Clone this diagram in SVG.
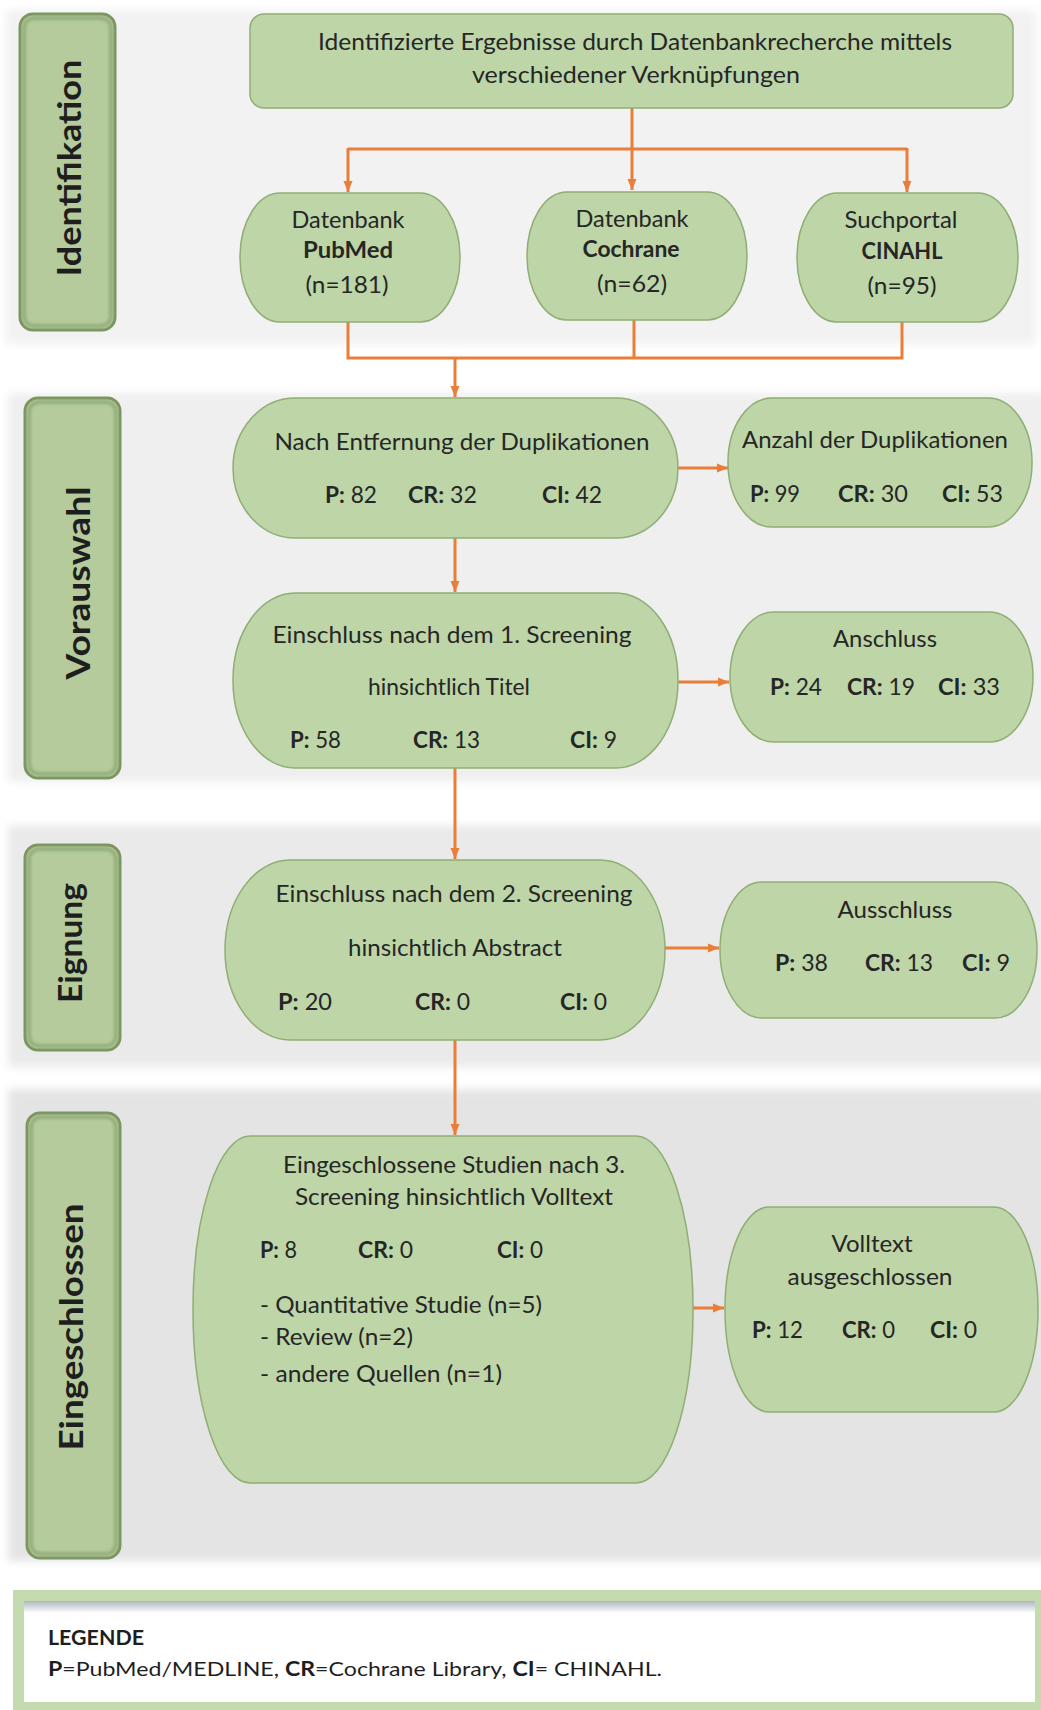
<svg xmlns="http://www.w3.org/2000/svg" width="1041" height="1710" viewBox="0 0 1041 1710">
<style>
.t{font-family:Lato,"Liberation Sans",sans-serif;font-size:23px;fill:#262626}
.c{text-anchor:middle}
.b{font-weight:bold}
.lbl{font-family:Lato,"Liberation Sans",sans-serif;font-size:33px;font-weight:bold;fill:#1e1e1e;text-anchor:middle}
.node{fill:#bdd5a7;stroke:#8fae74;stroke-width:1.5}
.lab{fill:#b5cb9c;stroke:#7b955f;stroke-width:3}
.labin{fill:none;stroke:#93ad7a;stroke-width:4;filter:url(#soft)}
.band{filter:url(#blur)}
.con{fill:none;stroke:#ea7d38;stroke-width:3}
.lg{font-family:Lato,"Liberation Sans",sans-serif;font-size:20px;fill:#1e1e1e}
</style>
<defs>
<filter id="blur" x="-5%" y="-5%" width="110%" height="110%"><feGaussianBlur stdDeviation="4"/></filter>
<filter id="soft"><feGaussianBlur stdDeviation="1.5"/></filter>
<marker id="ah" markerUnits="userSpaceOnUse" markerWidth="12" markerHeight="12" refX="11" refY="6" orient="auto">
<path d="M0,1.5 L11,6 L0,10.5 z" fill="#ea7d38"/>
</marker>
<linearGradient id="lgsh" x1="0" y1="0" x2="0" y2="1">
<stop offset="0" stop-color="#aeb6bd"/><stop offset="1" stop-color="#ffffff"/>
</linearGradient>
</defs>
<rect width="1041" height="1710" fill="#ffffff"/>
<g id="bands">
<rect class="band" x="6" y="10" width="1030" height="334" fill="#f2f2f2"/>
<rect class="band" x="8" y="393" width="1040" height="389" fill="#efefef"/>
<rect class="band" x="8" y="825" width="1040" height="242" fill="#eaeaea"/>
<rect class="band" x="8" y="1089" width="1040" height="472" fill="#e4e4e4"/>
</g>
<g id="lab-identifikation">
<rect class="lab" x="20" y="14" width="95" height="316" rx="13"/>
<rect class="labin" x="24" y="18" width="87" height="308" rx="10"/>
<text class="lbl" transform="translate(81,168) rotate(-90)" textLength="217" lengthAdjust="spacingAndGlyphs">Identifikation</text>
</g>
<g id="lab-vorauswahl">
<rect class="lab" x="25" y="398" width="95" height="380" rx="13"/>
<rect class="labin" x="29" y="402" width="87" height="372" rx="10"/>
<text class="lbl" transform="translate(90,583) rotate(-90)" textLength="193" lengthAdjust="spacingAndGlyphs">Vorauswahl</text>
</g>
<g id="lab-eignung">
<rect class="lab" x="25" y="845" width="95" height="205" rx="13"/>
<rect class="labin" x="29" y="849" width="87" height="197" rx="10"/>
<text class="lbl" transform="translate(82,943) rotate(-90)" textLength="120" lengthAdjust="spacingAndGlyphs">Eignung</text>
</g>
<g id="lab-eingeschlossen">
<rect class="lab" x="27" y="1113" width="93" height="445" rx="13"/>
<rect class="labin" x="31" y="1117" width="85" height="437" rx="10"/>
<text class="lbl" transform="translate(83,1327) rotate(-90)" textLength="247" lengthAdjust="spacingAndGlyphs">Eingeschlossen</text>
</g>
<g id="connectors">
<path class="con" d="M632,108 V190" marker-end="url(#ah)"/>
<path class="con" d="M348,149 H907"/>
<path class="con" d="M348,148 V192" marker-end="url(#ah)"/>
<path class="con" d="M907,148 V192" marker-end="url(#ah)"/>
<path class="con" d="M348,322 V358 H902 V322"/>
<path class="con" d="M634,320 V358"/>
<path class="con" d="M455,358 V397" marker-end="url(#ah)"/>
<path class="con" d="M678,468 H728" marker-end="url(#ah)"/>
<path class="con" d="M455,538 V592" marker-end="url(#ah)"/>
<path class="con" d="M678,682 H729" marker-end="url(#ah)"/>
<path class="con" d="M455,768 V859" marker-end="url(#ah)"/>
<path class="con" d="M665,948 H719" marker-end="url(#ah)"/>
<path class="con" d="M455,1040 V1135" marker-end="url(#ah)"/>
<path class="con" d="M693,1308 H724" marker-end="url(#ah)"/>
</g>
<g id="n-top">
<rect class="node" x="250" y="14" width="763" height="94" rx="14"/>
<text class="t c" x="635" y="50" textLength="634" lengthAdjust="spacingAndGlyphs">Identifizierte Ergebnisse durch Datenbankrecherche mittels</text>
<text class="t c" x="636" y="83" textLength="328" lengthAdjust="spacingAndGlyphs">verschiedener Verknüpfungen</text>
</g>
<g id="n-pubmed">
<rect class="node" x="240" y="193" width="220" height="129" rx="40" ry="64"/>
<text class="t c" x="348" y="228" textLength="113" lengthAdjust="spacingAndGlyphs">Datenbank</text>
<text class="t c b" x="348" y="258" textLength="90" lengthAdjust="spacingAndGlyphs">PubMed</text>
<text class="t c" x="347" y="293" textLength="83" lengthAdjust="spacingAndGlyphs">(n=181)</text>
</g>
<g id="n-cochrane">
<rect class="node" x="527" y="192" width="220" height="128" rx="40" ry="64"/>
<text class="t c" x="632" y="227" textLength="113" lengthAdjust="spacingAndGlyphs">Datenbank</text>
<text class="t c b" x="631" y="257" textLength="97" lengthAdjust="spacingAndGlyphs">Cochrane</text>
<text class="t c" x="632" y="292" textLength="70" lengthAdjust="spacingAndGlyphs">(n=62)</text>
</g>
<g id="n-cinahl">
<rect class="node" x="797" y="193" width="221" height="129" rx="40" ry="64"/>
<text class="t c" x="901" y="228" textLength="113" lengthAdjust="spacingAndGlyphs">Suchportal</text>
<text class="t c b" x="902" y="259" textLength="81" lengthAdjust="spacingAndGlyphs">CINAHL</text>
<text class="t c" x="902" y="294" textLength="69" lengthAdjust="spacingAndGlyphs">(n=95)</text>
</g>
<g id="n-nach">
<rect class="node" x="233" y="398" width="445" height="140" rx="62" ry="70"/>
<text class="t c" x="462" y="450" textLength="375" lengthAdjust="spacingAndGlyphs">Nach Entfernung der Duplikationen</text>
<text class="t" x="325" y="503" textLength="52" lengthAdjust="spacingAndGlyphs"><tspan class="b">P:</tspan> 82</text>
<text class="t" x="408" y="503" textLength="69" lengthAdjust="spacingAndGlyphs"><tspan class="b">CR:</tspan> 32</text>
<text class="t" x="542" y="503" textLength="60" lengthAdjust="spacingAndGlyphs"><tspan class="b">CI:</tspan> 42</text>
</g>
<g id="n-anzahl">
<rect class="node" x="728" y="398" width="304" height="129" rx="44" ry="64"/>
<text class="t c" x="875" y="448" textLength="266" lengthAdjust="spacingAndGlyphs">Anzahl der Duplikationen</text>
<text class="t" x="750" y="502" textLength="50" lengthAdjust="spacingAndGlyphs"><tspan class="b">P:</tspan> 99</text>
<text class="t" x="838" y="502" textLength="70" lengthAdjust="spacingAndGlyphs"><tspan class="b">CR:</tspan> 30</text>
<text class="t" x="942" y="502" textLength="61" lengthAdjust="spacingAndGlyphs"><tspan class="b">CI:</tspan> 53</text>
</g>
<g id="n-einschluss1">
<rect class="node" x="233" y="593" width="445" height="175" rx="62" ry="87"/>
<text class="t c" x="452" y="643" textLength="359" lengthAdjust="spacingAndGlyphs">Einschluss nach dem 1. Screening</text>
<text class="t c" x="449" y="695" textLength="162" lengthAdjust="spacingAndGlyphs">hinsichtlich Titel</text>
<text class="t" x="290" y="748" textLength="51" lengthAdjust="spacingAndGlyphs"><tspan class="b">P:</tspan> 58</text>
<text class="t" x="413" y="748" textLength="67" lengthAdjust="spacingAndGlyphs"><tspan class="b">CR:</tspan> 13</text>
<text class="t" x="570" y="748" textLength="47" lengthAdjust="spacingAndGlyphs"><tspan class="b">CI:</tspan> 9</text>
</g>
<g id="n-anschluss">
<rect class="node" x="730" y="612" width="303" height="130" rx="44" ry="65"/>
<text class="t c" x="885" y="647" textLength="104" lengthAdjust="spacingAndGlyphs">Anschluss</text>
<text class="t" x="770" y="695" textLength="52" lengthAdjust="spacingAndGlyphs"><tspan class="b">P:</tspan> 24</text>
<text class="t" x="847" y="695" textLength="68" lengthAdjust="spacingAndGlyphs"><tspan class="b">CR:</tspan> 19</text>
<text class="t" x="938" y="695" textLength="62" lengthAdjust="spacingAndGlyphs"><tspan class="b">CI:</tspan> 33</text>
</g>
<g id="n-einschluss2">
<rect class="node" x="225" y="860" width="440" height="180" rx="65" ry="90"/>
<text class="t c" x="454" y="902" textLength="357" lengthAdjust="spacingAndGlyphs">Einschluss nach dem 2. Screening</text>
<text class="t c" x="455" y="956" textLength="214" lengthAdjust="spacingAndGlyphs">hinsichtlich Abstract</text>
<text class="t" x="278" y="1010" textLength="54" lengthAdjust="spacingAndGlyphs"><tspan class="b">P:</tspan> 20</text>
<text class="t" x="415" y="1010" textLength="55" lengthAdjust="spacingAndGlyphs"><tspan class="b">CR:</tspan> 0</text>
<text class="t" x="560" y="1010" textLength="47" lengthAdjust="spacingAndGlyphs"><tspan class="b">CI:</tspan> 0</text>
</g>
<g id="n-ausschluss">
<rect class="node" x="720" y="882" width="317" height="136" rx="42" ry="68"/>
<text class="t c" x="895" y="918" textLength="115" lengthAdjust="spacingAndGlyphs">Ausschluss</text>
<text class="t" x="775" y="971" textLength="53" lengthAdjust="spacingAndGlyphs"><tspan class="b">P:</tspan> 38</text>
<text class="t" x="865" y="971" textLength="68" lengthAdjust="spacingAndGlyphs"><tspan class="b">CR:</tspan> 13</text>
<text class="t" x="962" y="971" textLength="48" lengthAdjust="spacingAndGlyphs"><tspan class="b">CI:</tspan> 9</text>
</g>
<g id="n-eingeschlossen">
<rect class="node" x="193" y="1136" width="500" height="347" rx="57" ry="173"/>
<text class="t c" x="454" y="1173" textLength="342" lengthAdjust="spacingAndGlyphs">Eingeschlossene Studien nach 3.</text>
<text class="t c" x="454" y="1205" textLength="318" lengthAdjust="spacingAndGlyphs">Screening hinsichtlich Volltext</text>
<text class="t" x="260" y="1258" textLength="37" lengthAdjust="spacingAndGlyphs"><tspan class="b">P:</tspan> 8</text>
<text class="t" x="358" y="1258" textLength="55" lengthAdjust="spacingAndGlyphs"><tspan class="b">CR:</tspan> 0</text>
<text class="t" x="497" y="1258" textLength="46" lengthAdjust="spacingAndGlyphs"><tspan class="b">CI:</tspan> 0</text>
<text class="t" x="260" y="1313" textLength="282" lengthAdjust="spacingAndGlyphs">- Quantitative Studie (n=5)</text>
<text class="t" x="260" y="1345" textLength="153" lengthAdjust="spacingAndGlyphs">- Review (n=2)</text>
<text class="t" x="260" y="1382" textLength="242" lengthAdjust="spacingAndGlyphs">- andere Quellen (n=1)</text>
</g>
<g id="n-volltext">
<rect class="node" x="725" y="1207" width="313" height="205" rx="44" ry="102"/>
<text class="t c" x="872" y="1252" textLength="81" lengthAdjust="spacingAndGlyphs">Volltext</text>
<text class="t c" x="870" y="1285" textLength="165" lengthAdjust="spacingAndGlyphs">ausgeschlossen</text>
<text class="t" x="752" y="1338" textLength="51" lengthAdjust="spacingAndGlyphs"><tspan class="b">P:</tspan> 12</text>
<text class="t" x="842" y="1338" textLength="53" lengthAdjust="spacingAndGlyphs"><tspan class="b">CR:</tspan> 0</text>
<text class="t" x="930" y="1338" textLength="47" lengthAdjust="spacingAndGlyphs"><tspan class="b">CI:</tspan> 0</text>
</g>
<g id="legend">
<rect x="13" y="1590" width="1028" height="120" fill="#c4dbb0"/>
<rect x="24" y="1601" width="1011" height="101" fill="#ffffff"/>
<rect x="24" y="1601" width="1011" height="12" fill="url(#lgsh)"/>
<text class="lg b" x="48" y="1645" textLength="96" lengthAdjust="spacingAndGlyphs">LEGENDE</text>
<text class="lg" x="48" y="1676" textLength="614" lengthAdjust="spacingAndGlyphs"><tspan class="b">P</tspan>=PubMed/MEDLINE, <tspan class="b">CR</tspan>=Cochrane Library, <tspan class="b">CI</tspan>= CHINAHL.</text>
</g>
</svg>
